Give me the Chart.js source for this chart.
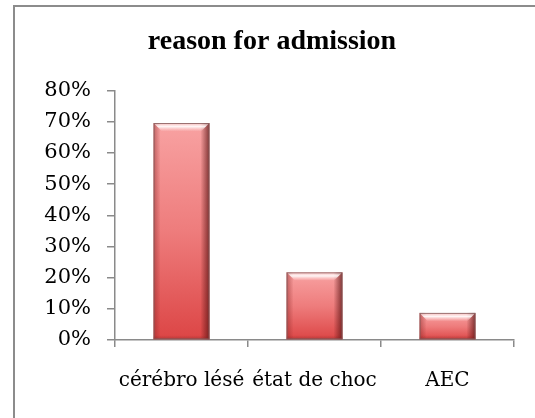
<!DOCTYPE html>
<html>
<head>
<meta charset="utf-8">
<script src="https://cdn.jsdelivr.net/npm/chart.js@4.4.1/dist/chart.umd.min.js"></script>
<style>
  html, body { margin: 0; padding: 0; background: #fff; }
  #wrap { position: relative; width: 535px; height: 418px; overflow: hidden; }
  #frame { position: absolute; left: 13px; top: 5px; width: 540px; height: 430px;
           border-top: 2px solid #8c8c8c; border-left: 2px solid #8c8c8c; pointer-events: none; }
  canvas { position: absolute; left: 0; top: 0; }
</style>
</head>
<body>
<div id="wrap">
  <canvas id="c" width="535" height="418"></canvas>
  <div id="frame"></div>
</div>
<script>
// Reasons for admission, share of patients
const categories = ['cérébro lésé', 'état de choc', 'AEC'];
const shares = [0.696, 0.217, 0.087];
const yTicks = [0, 0.1, 0.2, 0.3, 0.4, 0.5, 0.6, 0.7, 0.8];

const AXIS = '#8a8a8a';
const FONT = "'DejaVu Serif', serif";
const TITLE_FONT = "'Liberation Serif', serif";

// vertical fill for each bar, lighter at the top
function barFill(ctx) {
  const chart = ctx.chart;
  const y = chart.scales.y;
  if (!chart.chartArea || !y || !ctx.parsed) return '#e56a6a';
  const top = y.getPixelForValue(ctx.parsed.y);
  const base = y.getPixelForValue(0);
  if (!isFinite(top) || !isFinite(base) || top === base) return '#e56a6a';
  const g = chart.ctx.createLinearGradient(0, top, 0, base);
  g.addColorStop(0, '#f8a2a2');
  g.addColorStop(0.5, '#ee7c7c');
  g.addColorStop(1, '#dc4545');
  return g;
}

// glossy bevel drawn over each bar
const bevel = {
  id: 'bevel',
  afterDatasetsDraw(chart) {
    const c = chart.ctx;
    chart.getDatasetMeta(0).data.forEach(bar => {
      const p = bar.getProps(['x', 'y', 'base', 'width'], true);
      const l = p.x - p.width / 2, r = p.x + p.width / 2;
      const t = p.y, b = p.base, h = b - t;
      const e = Math.min(8, h / 3);
      c.save();
      // left edge shade
      let g = c.createLinearGradient(l, 0, l + 7, 0);
      g.addColorStop(0, 'rgba(140,40,40,0.5)');
      g.addColorStop(1, 'rgba(140,40,40,0)');
      c.fillStyle = g; c.fillRect(l, t, 7, h);
      // right edge shade
      g = c.createLinearGradient(r - 9, 0, r, 0);
      g.addColorStop(0, 'rgba(90,20,20,0)');
      g.addColorStop(1, 'rgba(90,20,20,0.75)');
      c.fillStyle = g; c.fillRect(r - 9, t, 9, h);
      // top highlight band
      c.beginPath();
      c.moveTo(l, t); c.lineTo(r, t); c.lineTo(r - e, t + e); c.lineTo(l + e, t + e); c.closePath();
      g = c.createLinearGradient(0, t, 0, t + e);
      g.addColorStop(0, 'rgba(255,255,255,0.3)');
      g.addColorStop(0.45, 'rgba(255,255,255,0.9)');
      g.addColorStop(1, 'rgba(255,220,220,0.1)');
      c.fillStyle = g; c.fill();
      // bottom shade
      g = c.createLinearGradient(0, b - 4, 0, b);
      g.addColorStop(0, 'rgba(120,30,30,0)');
      g.addColorStop(1, 'rgba(120,30,30,0.35)');
      c.fillStyle = g; c.fillRect(l, b - 4, r - l, 4);
      // outline
      c.strokeStyle = 'rgba(130,90,90,0.8)';
      c.lineWidth = 1;
      c.strokeRect(l + 0.5, t + 0.5, r - l - 1, h - 1);
      c.restore();
    });
  }
};

new Chart(document.getElementById('c'), {
  type: 'bar',
  data: {
    labels: categories,
    datasets: [{
      data: shares,
      backgroundColor: barFill,
      borderWidth: 0,
      categoryPercentage: 1,
      barPercentage: 0.42
    }]
  },
  options: {
    responsive: false,
    animation: false,
    layout: { padding: { left: 30, right: 21, top: 0, bottom: 0 } },
    plugins: {
      legend: { display: false },
      tooltip: { enabled: false },
      title: {
        display: true,
        text: 'reason for admission',
        color: '#000',
        font: { family: TITLE_FONT, size: 28, weight: 'bold', lineHeight: 1.2 },
        padding: { top: 25, bottom: 32 }
      }
    },
    scales: {
      x: {
        grid: { display: true, drawOnChartArea: false, drawTicks: true, tickLength: 7,
                color: AXIS, lineWidth: 1.5, offset: true },
        border: { display: true, color: AXIS, width: 1.5 },
        ticks: { color: '#000', font: { family: FONT, size: 20 }, padding: 22, maxRotation: 0 },
        afterFit(s) { s.height = 78; }
      },
      y: {
        min: 0, max: 0.8,
        afterBuildTicks(s) { s.ticks = yTicks.map(v => ({ value: v })); },
        grid: { display: true, drawOnChartArea: false, drawTicks: true, tickLength: 8,
                color: AXIS, lineWidth: 1.5 },
        border: { display: true, color: AXIS, width: 1.5 },
        ticks: { color: '#000', font: { family: FONT, size: 21 }, padding: 16,
                 callback: v => Math.round(v * 100) + '%' },
        afterFit(s) { s.width = 85; }
      }
    }
  },
  plugins: [bevel]
});
</script>
</body>
</html>
